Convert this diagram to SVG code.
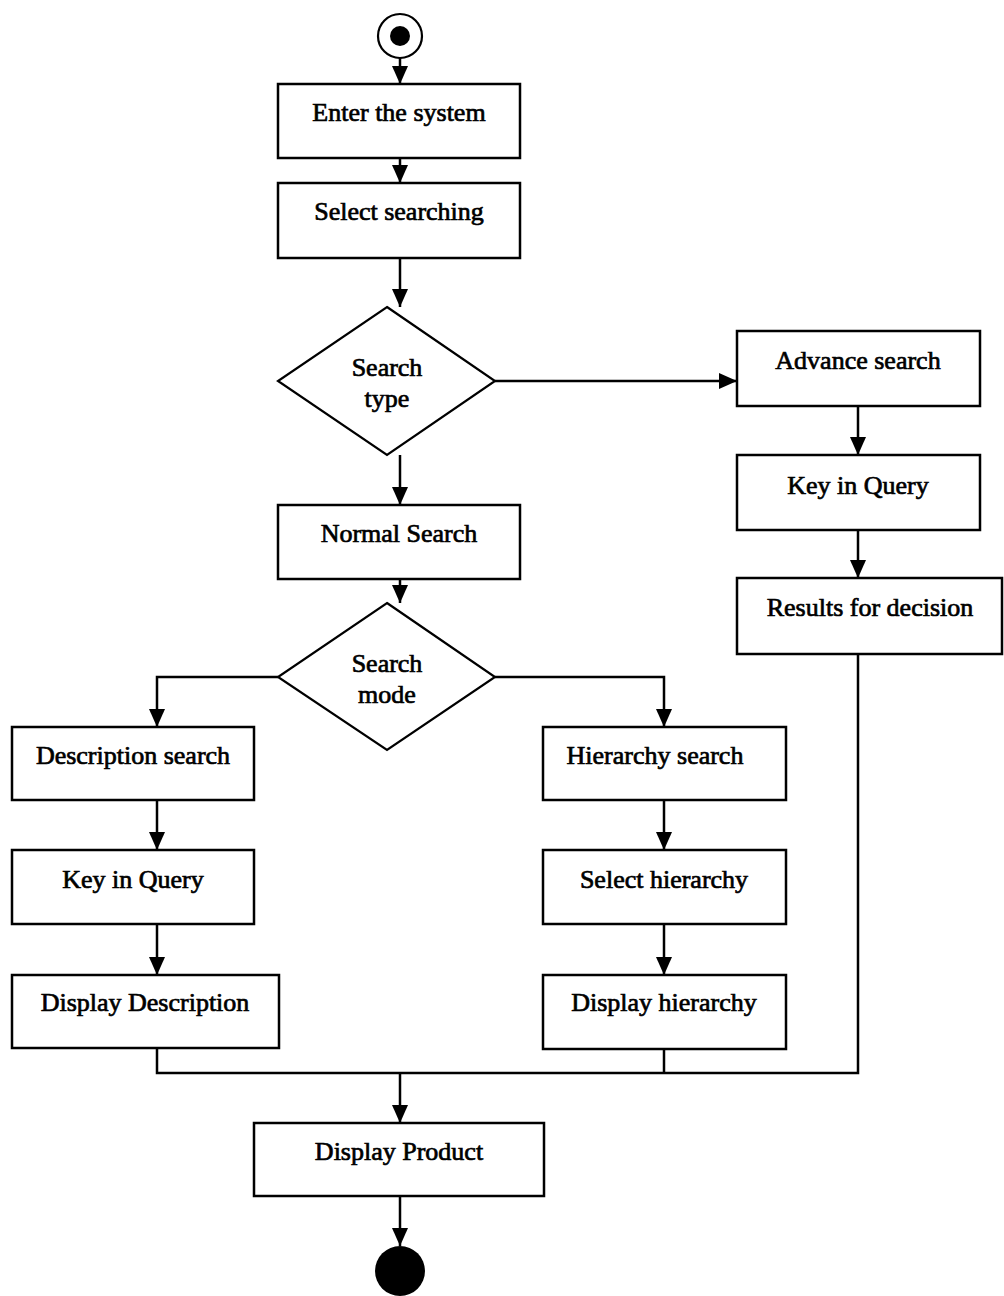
<svg xmlns="http://www.w3.org/2000/svg" width="1004" height="1296" viewBox="0 0 1004 1296">
  <style>
    .box { fill: #fff; stroke: #000; stroke-width: 2.5; }
    .dia { fill: #fff; stroke: #000; stroke-width: 2.2; }
    .lbl { font-family: "Liberation Serif", "Times New Roman", serif; font-size: 26px; fill: #000; stroke: #000; stroke-width: 0.7; text-anchor: middle; }
    .edge { fill: none; stroke: #000; stroke-width: 2.5; }
    .arr { marker-end: url(#head); }
  </style>
  <defs>
    <marker id="head" viewBox="0 0 18 16" refX="18" refY="8" markerWidth="18" markerHeight="16" markerUnits="userSpaceOnUse" orient="auto">
      <path d="M0,0 L18,8 L0,16 Z" fill="#000"/>
    </marker>
  </defs>
  <rect width="1004" height="1296" fill="#fff"/>

  <!-- connectors -->
  <g id="connectors">
    <line class="edge arr" x1="400" y1="58" x2="400" y2="84"/>
    <line class="edge arr" x1="400" y1="158" x2="400" y2="183"/>
    <line class="edge arr" x1="400" y1="258" x2="400" y2="307"/>
    <line class="edge arr" x1="495" y1="381" x2="737" y2="381"/>
    <line class="edge arr" x1="858" y1="406" x2="858" y2="455"/>
    <line class="edge arr" x1="858" y1="530" x2="858" y2="578"/>
    <line class="edge arr" x1="400" y1="455" x2="400" y2="505"/>
    <line class="edge arr" x1="400" y1="579" x2="400" y2="603"/>
    <polyline class="edge arr" points="278,677 157,677 157,727"/>
    <polyline class="edge arr" points="495,677 664,677 664,727"/>
    <line class="edge arr" x1="157" y1="800" x2="157" y2="850"/>
    <line class="edge arr" x1="157" y1="924" x2="157" y2="975"/>
    <line class="edge arr" x1="664" y1="800" x2="664" y2="850"/>
    <line class="edge arr" x1="664" y1="924" x2="664" y2="975"/>
    <polyline class="edge" points="157,1048 157,1073 858,1073 858,654"/>
    <line class="edge" x1="664" y1="1049" x2="664" y2="1073"/>
    <line class="edge arr" x1="400" y1="1073" x2="400" y2="1123"/>
    <line class="edge arr" x1="400" y1="1196" x2="400" y2="1246"/>
  </g>

  <!-- initial state -->
  <g id="start">
    <circle cx="400" cy="36" r="22" fill="#fff" stroke="#000" stroke-width="2.2"/>
    <circle cx="400" cy="36" r="10" fill="#000"/>
  </g>

  <g id="enter-system">
    <rect class="box" x="278" y="84" width="242" height="74"/>
    <text class="lbl" x="399" y="121">Enter the system</text>
  </g>

  <g id="select-searching">
    <rect class="box" x="278" y="183" width="242" height="75"/>
    <text class="lbl" x="399" y="220">Select searching</text>
  </g>

  <g id="search-type">
    <polygon class="dia" points="387,307 495,381 387,455 278,381"/>
    <text class="lbl" x="387" y="376">Search</text>
    <text class="lbl" x="387" y="407">type</text>
  </g>

  <g id="advance-search">
    <rect class="box" x="737" y="331" width="243" height="75"/>
    <text class="lbl" x="858" y="369">Advance search</text>
  </g>

  <g id="key-query-advance">
    <rect class="box" x="737" y="455" width="243" height="75"/>
    <text class="lbl" x="858" y="494">Key in Query</text>
  </g>

  <g id="results-decision">
    <rect class="box" x="737" y="578" width="265" height="76"/>
    <text class="lbl" x="870" y="616">Results for decision</text>
  </g>

  <g id="normal-search">
    <rect class="box" x="278" y="505" width="242" height="74"/>
    <text class="lbl" x="399" y="542">Normal Search</text>
  </g>

  <g id="search-mode">
    <polygon class="dia" points="387,603 495,677 387,750 278,677"/>
    <text class="lbl" x="387" y="672">Search</text>
    <text class="lbl" x="387" y="703">mode</text>
  </g>

  <g id="description-search">
    <rect class="box" x="12" y="727" width="242" height="73"/>
    <text class="lbl" x="133" y="764">Description search</text>
  </g>

  <g id="key-query-description">
    <rect class="box" x="12" y="850" width="242" height="74"/>
    <text class="lbl" x="133" y="888">Key in Query</text>
  </g>

  <g id="display-description">
    <rect class="box" x="12" y="975" width="267" height="73"/>
    <text class="lbl" x="145" y="1011">Display Description</text>
  </g>

  <g id="hierarchy-search">
    <rect class="box" x="543" y="727" width="243" height="73"/>
    <text class="lbl" x="655" y="764">Hierarchy search</text>
  </g>

  <g id="select-hierarchy">
    <rect class="box" x="543" y="850" width="243" height="74"/>
    <text class="lbl" x="664" y="888">Select hierarchy</text>
  </g>

  <g id="display-hierarchy">
    <rect class="box" x="543" y="975" width="243" height="74"/>
    <text class="lbl" x="664" y="1011">Display hierarchy</text>
  </g>

  <g id="display-product">
    <rect class="box" x="254" y="1123" width="290" height="73"/>
    <text class="lbl" x="399" y="1160">Display Product</text>
  </g>

  <!-- final state -->
  <g id="end">
    <circle cx="400" cy="1271" r="25" fill="#000"/>
  </g>
</svg>
